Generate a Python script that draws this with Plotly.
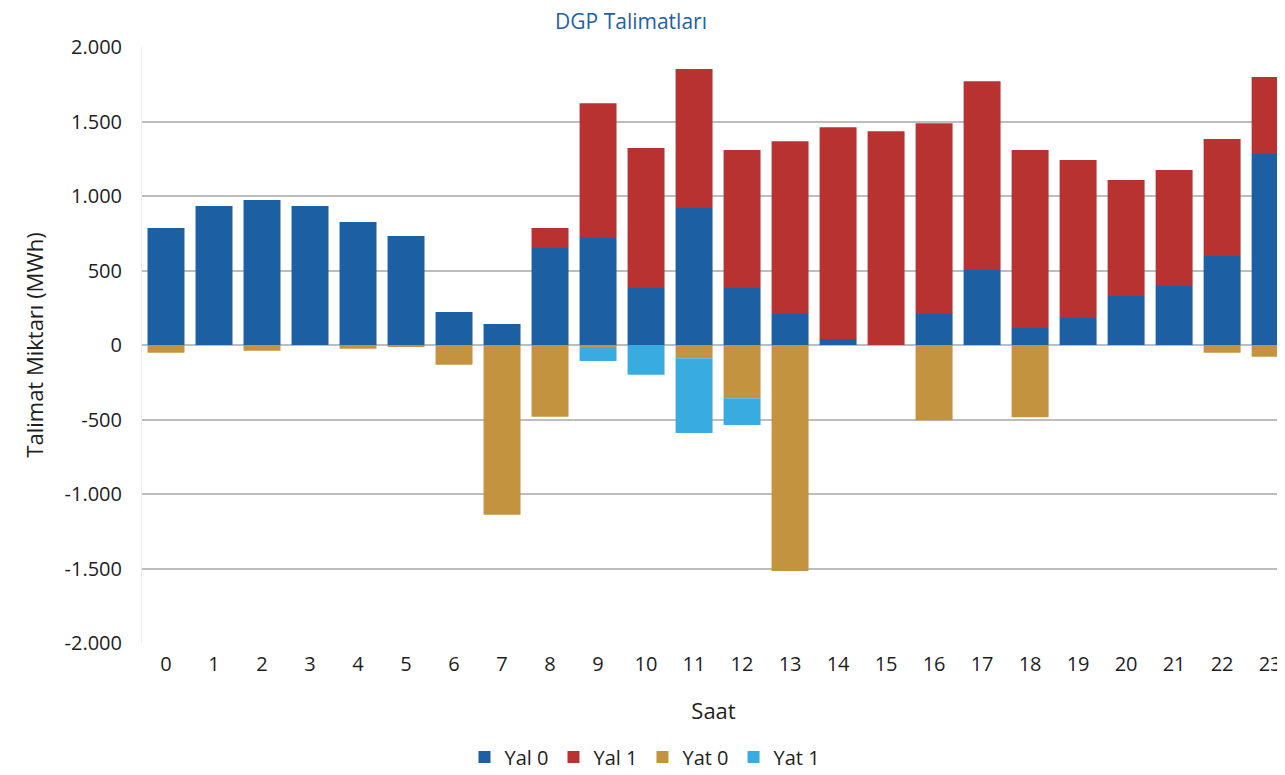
import plotly.graph_objects as go

hours = list(range(24))
hour_labels = [str(h) for h in hours]

y_tick_vals = [-2000, -1500, -1000, -500, 0, 500, 1000, 1500, 2000]
y_tick_text = ["-2.000", "-1.500", "-1.000", "-500", "0", "500", "1.000", "1.500", "2.000"]

yal0 = [785, 933, 973, 933, 825, 731, 221, 141, 651, 718, 382, 919,
        382, 208, 40, 0, 208, 503, 114, 181, 329, 396, 597, 1282]
yal1 = [0, 0, 0, 0, 0, 0, 0, 0, 134, 904, 940, 933,
        926, 1160, 1422, 1435, 1281, 1267, 1194, 1060, 778, 778, 785, 516]
yat0 = [-52, 0, -38, 0, -25, -11, -132, -1140, -481, -20, 0, -89,
        -358, -1516, 0, 0, -505, 0, -485, 0, 0, 0, -52, -79]
yat1 = [0, 0, 0, 0, 0, 0, 0, 0, 0, -87, -200, -501,
        -179, 0, 0, 0, 0, 0, 0, 0, 0, 0, 0, 0]

series = [
    ("Yal 0", yal0, "#1c5fa3"),
    ("Yal 1", yal1, "#b93232"),
    ("Yat 0", yat0, "#c39340"),
    ("Yat 1", yat1, "#38abe0"),
]

FONT = "Open Sans"
TXT = "#1e1e1e"

# page has an 8px body margin; size the figure so it ends at the window edge
W, H = 1277, 767

fig = go.Figure()
for name, vals, col in series:
    fig.add_trace(go.Bar(
        x=hours, y=vals, name=name,
        marker=dict(color=col, line=dict(width=0)),
        width=0.77,
    ))

fig.update_layout(
    width=W, height=H,
    barmode="relative",
    paper_bgcolor="white", plot_bgcolor="white",
    margin=dict(l=134, r=0, t=39, b=132, autoexpand=False),
    font=dict(family=FONT, color=TXT, size=20),
    title=dict(text="DGP Talimatları", x=623 / W, xref="container", xanchor="center",
               y=1 - 6 / H, yref="container", yanchor="top",
               font=dict(family=FONT, size=21, color="#1f5fa6")),
    legend=dict(orientation="h", x=637 / W, xref="container", xanchor="center",
                y=1 - 749 / H, yref="container", yanchor="middle",
                font=dict(family=FONT, size=20, color=TXT),
                itemwidth=30, traceorder="normal", tracegroupgap=0),
    showlegend=True,
)

fig.update_xaxes(
    range=[-0.5, 23.31], automargin=False,
    tickmode="array", tickvals=hours, ticktext=hour_labels,
    showgrid=False, zeroline=False,
    showline=False,
    ticks="outside", ticklen=3, tickcolor="rgba(0,0,0,0)",
    title=dict(text="Saat", font=dict(family=FONT, size=22, color=TXT), standoff=27),
    tickfont=dict(family=FONT, size=20, color=TXT),
)
fig.update_yaxes(
    range=[-2000, 2000], automargin=False,
    tickmode="array", tickvals=y_tick_vals, ticktext=y_tick_text,
    showgrid=True, gridcolor="#bdbdbd", gridwidth=1.5,
    zeroline=True, zerolinecolor="#bdbdbd", zerolinewidth=1.5,
    showline=True, linecolor="#ececec", linewidth=1,
    ticks="outside", ticklen=15, tickcolor="rgba(0,0,0,0)",
    title=dict(text="Talimat Miktarı (MWh)", font=dict(family=FONT, size=22, color=TXT), standoff=14),
    tickfont=dict(family=FONT, size=20, color=TXT),
)

fig.write_html("out.html")
